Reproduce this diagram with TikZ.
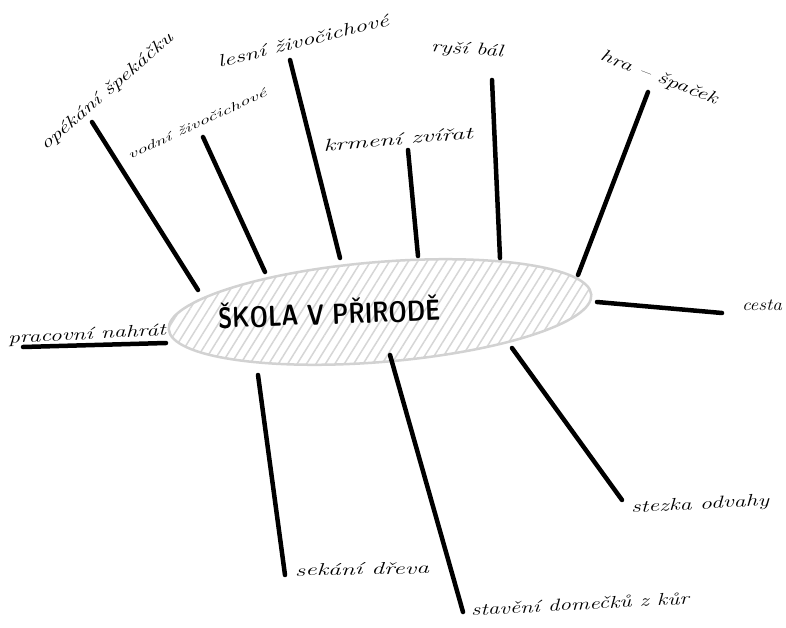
\documentclass[tikz,border=0pt]{standalone}
\usepackage{fontspec}
\usetikzlibrary{shapes.geometric,patterns.meta}
\newlength\lbllen
\newcommand{\fitlabel}[2]{\settowidth{\lbllen}{#2}\pgfmathsetmacro\lblratio{#1/\lbllen}\scalebox{\lblratio}[1]{#2}}
\begin{document}
\begin{tikzpicture}[x=1pt,y=-1pt,
  lbl/.style={font=\fontsize{17}{20}\selectfont\itshape, inner sep=0pt, text=black},
  smalllbl/.style={lbl, font=\fontsize{12}{14}\selectfont\itshape},
  spoke/.style={line width=4.5pt, line cap=round, draw=black},
  hub/.style={ellipse, draw=gray!35, line width=2.5pt,
    pattern={Lines[angle=58,distance=8pt,line width=1.5pt]}, pattern color=gray!32,
    minimum width=424pt, minimum height=100pt, inner sep=0pt},
  title/.style={font=\sffamily\bfseries\fontsize{29}{31}\selectfont, inner sep=0pt, text=black}]
\useasboundingbox (0,0) rectangle (786,628);
\fill[white] (0,0) rectangle (786,628);
% central ellipse
\node[hub, rotate=4.7] (hub) at (380,312) {};
\node[title, rotate=2] (title) at (329,312) {\fitlabel{222}{ŠKOLA V PŘIRODĚ}};
% spoke end points
\coordinate (s1a) at (92,122);  \coordinate (s1b) at (198,290);
\coordinate (s2a) at (203,137); \coordinate (s2b) at (265,272);
\coordinate (s3a) at (290,60);  \coordinate (s3b) at (340,258);
\coordinate (s4a) at (408,150); \coordinate (s4b) at (418,256);
\coordinate (s5a) at (492,80);  \coordinate (s5b) at (500,258);
\coordinate (s6a) at (648,92);  \coordinate (s6b) at (578,275);
\coordinate (s7a) at (597,302); \coordinate (s7b) at (722,313);
\coordinate (s8a) at (512,348); \coordinate (s8b) at (622,500);
\coordinate (s9a) at (390,355); \coordinate (s9b) at (463,612);
\coordinate (s10a) at (258,375); \coordinate (s10b) at (285,575);
\coordinate (s11a) at (23,347); \coordinate (s11b) at (166,343);
\foreach \i in {1,...,11} {\draw[spoke] (s\i a) -- (s\i b);}
% labels
\node[lbl, rotate=41] (l1) at (107,92) {\fitlabel{170}{opékání špekáčku}};
\node[smalllbl, rotate=25] (l2) at (197,124) {\fitlabel{152}{vodní živočichové}};
\node[lbl, rotate=14] (l3) at (303,41) {\fitlabel{176}{lesní živočichové}};
\node[lbl, rotate=5] (l4) at (398,139) {\fitlabel{150}{krmení zvířat}};
\node[lbl, rotate=-4] (l5) at (467,50) {\fitlabel{72}{ryší bál}};
\node[lbl, rotate=-21] (l6) at (659,78) {\fitlabel{124}{hra – špaček}};
\node[lbl] (l7) at (762,305) {\fitlabel{40}{cesta}};
\node[lbl, rotate=3] (l8) at (87,335) {\fitlabel{158}{pracovní nahrát}};
\node[lbl, rotate=3] (l9) at (700,505) {\fitlabel{138}{stezka odvahy}};
\node[lbl, rotate=1] (l10) at (362,569) {\fitlabel{134}{sekání dřeva}};
\node[lbl, rotate=3] (l11) at (580,604) {\fitlabel{218}{stavění domečků z kůr}};
\end{tikzpicture}
\end{document}
